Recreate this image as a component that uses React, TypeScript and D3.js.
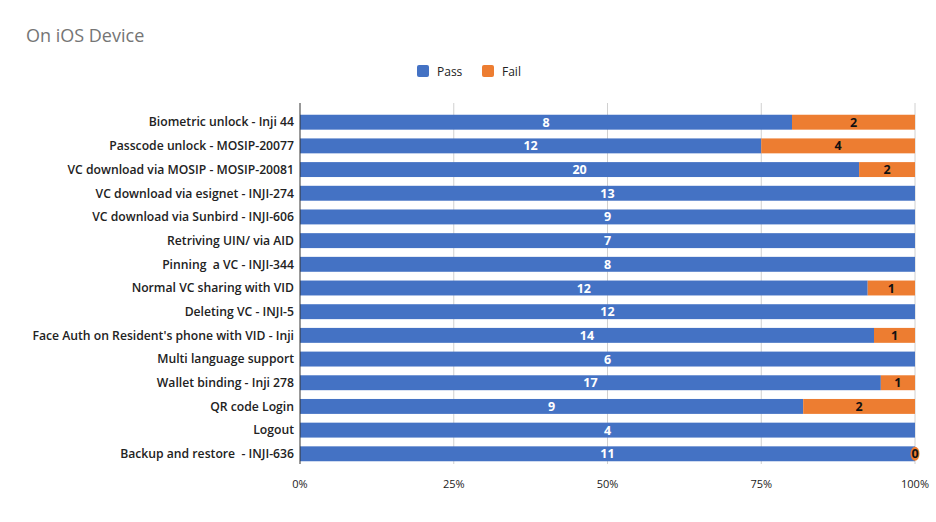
import { useEffect, useRef } from 'react'
import * as d3 from 'd3'

const categories = [
  'Biometric unlock - Inji 44',
  'Passcode unlock - MOSIP-20077',
  'VC download via MOSIP - MOSIP-20081',
  'VC download via esignet - INJI-274',
  'VC download via Sunbird - INJI-606',
  'Retriving UIN/ via AID',
  'Pinning  a VC - INJI-344',
  'Normal VC sharing with VID',
  'Deleting VC - INJI-5',
  "Face Auth on Resident's phone with VID - Inji",
  'Multi language support',
  'Wallet binding - Inji 278',
  'QR code Login',
  'Logout',
  'Backup and restore  - INJI-636',
]
const pass = [8, 12, 20, 13, 9, 7, 8, 12, 12, 14, 6, 17, 9, 4, 11]
const fail: (number | null)[] = [2, 4, 2, null, null, null, null, 1, null, 1, null, 1, 2, null, 0]
const ticks = [0, 0.25, 0.5, 0.75, 1]

const PASS_C = '#4472C4'
const FAIL_C = '#ED7D31'
const FONT = '"Open Sans", "DejaVu Sans", sans-serif'

export default function App() {
  const ref = useRef<SVGSVGElement>(null)

  useEffect(() => {
    if (!ref.current) return
    const svg = d3.select(ref.current)
    svg.selectAll('*').remove()

    const left = 300, right = 915, top = 110, bottom = 466
    const x = d3.scaleLinear().domain([0, 1]).range([left, right])
    const y = d3.scaleBand().domain(categories).range([top, bottom]).paddingInner(0.37).paddingOuter(0.2)

    // title
    svg.append('text').attr('x', 26).attr('y', 42).attr('font-size', 18)
      .attr('font-family', FONT).attr('fill', '#757575').text('On iOS Device')

    // legend
    const leg = [{ k: 'Pass', c: PASS_C, x: 417 }, { k: 'Fail', c: FAIL_C, x: 482 }]
    leg.forEach(l => {
      svg.append('rect').attr('x', l.x).attr('y', 65).attr('width', 12).attr('height', 12)
        .attr('rx', 2).attr('fill', l.c)
      svg.append('text').attr('x', l.x + 20).attr('y', 75.5).attr('font-size', 12)
        .attr('font-family', FONT).attr('fill', '#222').text(l.k)
    })

    // gridlines
    svg.selectAll('.grid').data(ticks.slice(1)).join('line')
      .attr('x1', d => x(d)).attr('x2', d => x(d))
      .attr('y1', top - 7).attr('y2', bottom - 2)
      .attr('stroke', '#d0d0d0').attr('stroke-width', 1)

    const rows = categories.map((c, i) => {
      const f = fail[i] ?? 0
      const tot = pass[i] + f
      return { c, p: pass[i], f: fail[i], pf: pass[i] / tot }
    })

    // bars
    svg.selectAll('.pb').data(rows).join('rect')
      .attr('x', x(0)).attr('y', d => y(d.c)!)
      .attr('width', d => x(d.pf) - x(0)).attr('height', y.bandwidth())
      .attr('fill', PASS_C)
    svg.selectAll('.fb').data(rows.filter(d => d.f)).join('rect')
      .attr('x', d => x(d.pf)).attr('y', d => y(d.c)!)
      .attr('width', d => x(1) - x(d.pf)).attr('height', y.bandwidth())
      .attr('fill', FAIL_C)

    // axis line
    svg.append('line').attr('x1', x(0)).attr('x2', x(0))
      .attr('y1', top - 7).attr('y2', bottom - 2)
      .attr('stroke', '#333').attr('stroke-width', 1)

    // category labels
    svg.selectAll('.cl').data(rows).join('text')
      .attr('x', left - 6).attr('y', d => y(d.c)! + y.bandwidth() / 2)
      .attr('dy', '0.35em').attr('text-anchor', 'end')
      .attr('font-size', 12.2).attr('font-weight', 600).attr('font-family', FONT)
      .attr('fill', '#222').style('white-space', 'pre').text(d => d.c)

    // value labels
    svg.selectAll('.pv').data(rows).join('text')
      .attr('x', d => (x(0) + x(d.pf)) / 2).attr('y', d => y(d.c)! + y.bandwidth() / 2)
      .attr('dy', '0.36em').attr('text-anchor', 'middle')
      .attr('font-size', 12.5).attr('font-weight', 700).attr('font-family', FONT)
      .attr('fill', '#fff').text(d => d.p)
    const fr = rows.filter(d => d.f !== null)
    svg.selectAll('.fz').data(fr.filter(d => d.f === 0)).join('ellipse')
      .attr('cx', x(1)).attr('cy', d => y(d.c)! + y.bandwidth() / 2)
      .attr('rx', 4.5).attr('ry', 7).attr('fill', FAIL_C)
    svg.selectAll('.fv').data(fr).join('text')
      .attr('x', d => (x(d.pf) + x(1)) / 2).attr('y', d => y(d.c)! + y.bandwidth() / 2)
      .attr('dy', '0.36em').attr('text-anchor', 'middle')
      .attr('font-size', 12.5).attr('font-weight', 700).attr('font-family', FONT)
      .attr('fill', '#111').text(d => d.f as number)

    // tick labels
    svg.selectAll('.tl').data(ticks).join('text')
      .attr('x', d => x(d)).attr('y', 488).attr('text-anchor', 'middle')
      .attr('font-size', 11).attr('font-family', FONT).attr('fill', '#222')
      .text(d => d3.format('.0%')(d))
  }, [])

  return (
    <svg ref={ref} width={936} height={522}
      style={{ display: 'block', position: 'absolute', left: 0, top: 0 }} />
  )
}
